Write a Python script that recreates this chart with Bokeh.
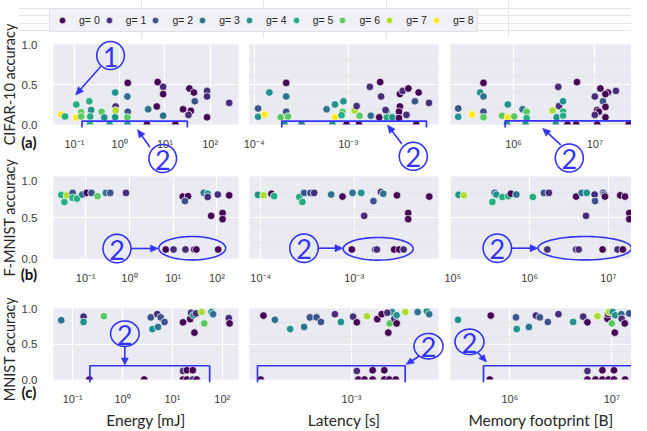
import numpy as np
from bokeh.plotting import figure
from bokeh.models import (Range1d, FixedTicker, CustomJSTickFormatter, PrintfTickFormatter,
                          Grid, Legend, LegendItem, ColumnDataSource)
from bokeh.core.properties import value
from bokeh.layouts import column, row
from bokeh.embed import file_html
from bokeh.resources import INLINE

# ---------------- data ----------------
groups = [0, 1, 2, 3, 4, 5, 6, 7, 8]
group_labels = ["g= 0", "g= 1", "g= 2", "g= 3", "g= 4", "g= 5", "g= 6", "g= 7", "g= 8"]
viridis9 = ["#440154", "#472c7a", "#3b528b", "#2c728e", "#21918c",
            "#27ad81", "#5cc863", "#aadc32", "#fde725"]

# CIFAR-10
cifar_energy_mj = [0.051, 0.062, 0.110, 0.110, 0.141, 0.141, 0.214, 0.234, 0.224, 0.398,
                   0.457, 0.794, 0.813, 0.813, 0.794, 1.51, 1.48, 1.51, 1.48, 4.27,
                   6.61, 6.92, 9.12, 9.12, 9.12, 25.1, 37.2, 33.1, 34.7, 43.7,
                   45.7, 85.1, 85.1, 85.1, 263, 0.22, 0.60, 1.48, 4.0, 17.0]
cifar_energy_acc = [0.125, 0.10, 0.088, 0.25, 0.154, 0.10, 0.29, 0.18, 0.10, 0.16,
                    0.088, 0.40, 0.225, 0.175, 0.09, 0.52, 0.35, 0.16, 0.09, 0.19,
                    0.225, 0.53, 0.47, 0.38, 0.11, 0.19, 0.17, 0.12, 0.45, 0.40,
                    0.29, 0.42, 0.35, 0.09, 0.27, 0.0, 0.0, 0.0, 0.0, 0.0]
cifar_energy_g = [8, 5, 8, 5, 6, 6, 5, 4, 5, 6,
                  4, 4, 1, 7, 4, 0, 3, 2, 6, 3,
                  0, 0, 1, 0, 3, 0, 0, 1, 0, 0,
                  2, 1, 1, 0, 1, 5, 4, 4, 0, 0]

cifar_latency_s = [1.10e-4, 1.10e-4, 1.29e-4, 1.45e-4, 2.19e-4, 2.19e-4, 2.19e-4, 1.91e-4, 2.29e-4, 5.89e-4,
                   7.24e-4, 8.91e-4, 8.71e-4, 7.24e-4, 8.5e-4, 1.17e-3, 1.23e-3, 1.32e-3, 1.70e-3, 1.74e-3,
                   2.14e-3, 2.19e-3, 2.24e-3, 2.57e-3, 2.57e-3, 2.95e-3, 2.5e-3, 3.55e-3, 3.47e-3, 3.55e-3,
                   3.80e-3, 4.37e-3, 4.17e-3, 5.13e-3, 5.62e-3, 7.24e-3, 3.47e-3,
                   2.1e-4, 3.2e-4, 6.8e-4, 9.6e-4, 1.3e-3, 5.3e-3]
cifar_latency_acc = [0.20, 0.096, 0.125, 0.40, 0.52, 0.35, 0.16, 0.09, 0.10, 0.19,
                     0.25, 0.29, 0.16, 0.09, 0.116, 0.175, 0.23, 0.11, 0.47, 0.11,
                     0.09, 0.53, 0.35, 0.16, 0.09, 0.09, 0.18, 0.225, 0.16, 0.38,
                     0.42, 0.45, 0.12, 0.29, 0.40, 0.27, 0.08,
                     0.0, 0.0, 0.0, 0.0, 0.0, 0.0]
cifar_latency_g = [2, 4, 8, 4, 0, 3, 2, 6, 6, 3,
                   4, 4, 6, 8, 5, 7, 1, 6, 1, 3,
                   0, 0, 1, 5, 5, 4, 1, 0, 0, 0,
                   1, 0, 1, 2, 0, 1, 0,
                   4, 3, 4, 0, 0, 0]

cifar_memory_b = [2.09e5, 2.09e5, 3.09e5, 3.89e5, 4.27e5, 4.27e5, 4.27e5, 4.27e5, 7.24e5, 8.51e5,
                  8.51e5, 1.02e6, 1.29e6, 1.45e6, 1.45e6, 3.02e6, 3.55e6, 3.63e6, 4.07e6, 4.07e6,
                  3.39e6, 4.07e6, 6.03e6, 1.0e7, 1.17e7, 1.45e7, 1.82e7, 1.26e7, 1.35e7, 1.07e7,
                  1.12e7, 1.0e7, 1.35e7, 1.35e7,
                  8.3e5, 1.41e6, 3.3e6, 4.6e6, 5.9e6, 1.07e7, 2.6e7]
cifar_memory_acc = [0.20, 0.096, 0.125, 0.40, 0.52, 0.35, 0.16, 0.09, 0.11, 0.25,
                    0.09, 0.10, 0.19, 0.16, 0.08, 0.175, 0.47, 0.23, 0.29, 0.16,
                    0.09, 0.11, 0.53, 0.35, 0.45, 0.40, 0.42, 0.29, 0.22, 0.18,
                    0.16, 0.12, 0.09, 0.38,
                    0.0, 0.0, 0.0, 0.0, 0.0, 0.0, 0.0]
cifar_memory_g = [2, 4, 8, 4, 0, 3, 2, 6, 6, 4,
                  8, 6, 3, 6, 5, 7, 1, 1, 4, 5,
                  4, 5, 0, 1, 0, 0, 1, 2, 0, 0,
                  0, 1, 0, 0,
                  4, 4, 4, 0, 0, 0, 0]

# F-MNIST
fmnist_energy_mj = [0.0275, 0.0324, 0.0372, 0.050, 0.050, 0.063, 0.083, 0.105, 0.135, 0.186,
                    0.288, 0.363, 0.832, 16.6, 21.9, 18.6, 50.1, 61.7, 61.7, 105,
                    191, 74.1, 135, 135, 6.76, 10.2, 19.1, 30.2, 33.9, 107]
fmnist_energy_acc = [0.776, 0.69, 0.77, 0.80, 0.74, 0.73, 0.78, 0.80, 0.80, 0.76,
                     0.80, 0.80, 0.80, 0.755, 0.76, 0.70, 0.80, 0.79, 0.75, 0.78,
                     0.77, 0.52, 0.555, 0.48, 0.11, 0.11, 0.11, 0.11, 0.11, 0.11]
fmnist_energy_g = [5, 5, 7, 2, 5, 5, 3, 0, 2, 6,
                   3, 2, 1, 0, 0, 2, 3, 4, 1, 1,
                   0, 0, 0, 0, 0, 1, 1, 1, 0, 0]

fmnist_latency_s = [9.3e-5, 1.07e-4, 1.30e-4, 1.39e-4, 2.58e-4, 2.79e-4, 2.91e-4, 3.40e-4, 3.73e-4, 5.67e-4,
                    7.50e-4, 9.60e-4, 1.19e-3, 1.28e-3, 1.61e-3, 1.93e-3, 2.05e-3, 2.87e-3, 3.79e-3, 3.79e-3,
                    6.37e-3, 9.44e-4, 1.68e-3, 1.75e-3, 2.68e-3, 3.03e-3, 3.38e-3]
fmnist_latency_acc = [0.776, 0.77, 0.79, 0.76, 0.75, 0.69, 0.80, 0.80, 0.80, 0.78,
                      0.755, 0.80, 0.80, 0.52, 0.70, 0.81, 0.79, 0.77, 0.555, 0.48,
                      0.755, 0.11, 0.11, 0.11, 0.11, 0.11, 0.11]
fmnist_latency_g = [4, 7, 0, 5, 5, 5, 2, 2, 1, 3,
                    0, 3, 4, 1, 2, 1, 3, 0, 0, 0,
                    0, 0, 1, 1, 0, 0, 1]

fmnist_memory_b = [1.25e5, 1.46e5, 3.37e5, 3.60e5, 3.78e5, 4.51e5, 5.37e5, 5.80e5, 6.78e5, 1.10e6,
                   1.52e6, 1.76e6, 3.90e6, 4.59e6, 5.32e6, 6.71e6, 6.78e6, 5.21e6, 8.65e6, 8.90e6,
                   9.07e6, 1.42e7, 1.63e7, 1.85e7, 1.85e7, 1.68e6, 3.90e6, 4.21e6, 8.47e6, 1.31e7, 1.53e7]
fmnist_memory_acc = [0.776, 0.77, 0.69, 0.80, 0.78, 0.75, 0.76, 0.79, 0.78, 0.75,
                     0.80, 0.80, 0.755, 0.80, 0.80, 0.78, 0.70, 0.52, 0.80, 0.78,
                     0.755, 0.77, 0.755, 0.555, 0.48, 0.11, 0.11, 0.11, 0.11, 0.11, 0.11]
fmnist_memory_g = [4, 7, 5, 2, 4, 5, 5, 0, 3, 5,
                   2, 1, 0, 3, 4, 1, 2, 1, 1, 3,
                   0, 0, 0, 0, 0, 1, 1, 1, 0, 1, 0]

# MNIST
mnist_energy_mj = [0.059, 0.165, 0.165, 0.422, 3.68, 3.97, 4.98, 5.14, 5.80, 6.95,
                   16.3, 22.7, 23.7, 26.4, 27.6, 29.8, 38.5, 43.5, 60.7, 65.5,
                   135, 140, 16.3, 19.5, 25.6, 0.217, 2.72, 16.3, 19.5, 25.6, 30.7]
mnist_energy_acc = [0.835, 0.885, 0.81, 0.89, 0.875, 0.71, 0.92, 0.74, 0.875, 0.81,
                    0.805, 0.85, 0.94, 0.905, 0.66, 0.93, 0.95, 0.79, 0.95, 0.92,
                    0.865, 0.79, 0.12, 0.13, 0.13, 0.0, 0.0, 0.0, 0.0, 0.0, 0.0]
mnist_energy_g = [3, 1, 4, 6, 2, 4, 1, 3, 2, 2,
                  0, 0, 1, 4, 0, 1, 7, 6, 4, 3,
                  1, 0, 1, 0, 0, 0, 0, 0, 0, 1, 0]

mnist_latency_s = [3.24e-4, 3.75e-4, 4.56e-4, 5.45e-4, 5.87e-4, 6.39e-4, 6.76e-4, 8.08e-4, 8.72e-4, 1.02e-3,
                   1.07e-3, 1.22e-3, 1.39e-3, 1.47e-3, 1.60e-3, 1.63e-3, 1.68e-3, 1.73e-3, 1.78e-3, 1.78e-3,
                   1.99e-3, 2.33e-3, 2.62e-3, 2.70e-3, 1.58e-3, 1.07e-3, 1.31e-3, 1.52e-3,
                   3.13e-4, 1.09e-3, 1.18e-3, 1.31e-3, 1.52e-3, 1.62e-3, 1.76e-3]
mnist_latency_acc = [0.90, 0.84, 0.71, 0.74, 0.875, 0.875, 0.81, 0.92, 0.81, 0.885,
                     0.805, 0.89, 0.85, 0.92, 0.66, 0.79, 0.95, 0.855, 0.79, 0.905,
                     0.95, 0.95, 0.96, 0.92, 0.94, 0.12, 0.13, 0.13,
                     0.0, 0.0, 0.0, 0.0, 0.0, 0.0, 0.0]
mnist_latency_g = [0, 3, 4, 3, 2, 2, 2, 1, 4, 1,
                   0, 7, 0, 0, 0, 6, 4, 1, 0, 4,
                   7, 3, 4, 3, 1, 1, 0, 0,
                   0, 0, 0, 0, 0, 0, 0]

mnist_memory_b = [3.11e5, 6.51e5, 1.15e6, 1.17e6, 1.54e6, 1.80e6, 1.97e6, 2.36e6, 3.00e6, 4.18e6,
                  5.24e6, 5.77e6, 7.23e6, 9.07e6, 9.21e6, 9.42e6, 1.02e7, 1.0e7, 1.07e7, 1.08e7,
                  1.24e7, 1.25e7, 1.34e7, 1.48e7, 5.77e6, 8.09e6, 1.05e7,
                  6.37e5, 5.77e6, 6.92e6, 8.09e6, 9.3e6, 1.05e7, 1.35e7]
mnist_memory_acc = [0.84, 0.90, 0.875, 0.71, 0.74, 0.90, 0.875, 0.81, 0.92, 0.81,
                    0.885, 0.805, 0.89, 0.855, 0.92, 0.95, 0.95, 0.79, 0.66, 0.905,
                    0.92, 0.855, 0.79, 0.93, 0.12, 0.13, 0.13,
                    0.0, 0.0, 0.0, 0.0, 0.0, 0.0, 0.0]
mnist_memory_g = [4, 0, 2, 4, 3, 1, 2, 2, 1, 4,
                  1, 0, 7, 0, 0, 7, 4, 6, 0, 4,
                  3, 1, 0, 2, 1, 0, 0,
                  0, 0, 0, 0, 0, 0, 0]

row_titles = ["CIFAR-10 accuracy", "F-MNIST accuracy", "MNIST accuracy"]
row_tags = ["(a)", "(b)", "(c)"]
col_titles = ["Energy [mJ]", "Latency [s]", "Memory footprint [B]"]
y_ticks = [0.0, 0.5, 1.0]

PANELS = [
    [(cifar_energy_mj, cifar_energy_acc, cifar_energy_g),
     (cifar_latency_s, cifar_latency_acc, cifar_latency_g),
     (cifar_memory_b, cifar_memory_acc, cifar_memory_g)],
    [(fmnist_energy_mj, fmnist_energy_acc, fmnist_energy_g),
     (fmnist_latency_s, fmnist_latency_acc, fmnist_latency_g),
     (fmnist_memory_b, fmnist_memory_acc, fmnist_memory_g)],
    [(mnist_energy_mj, mnist_energy_acc, mnist_energy_g),
     (mnist_latency_s, mnist_latency_acc, mnist_latency_g),
     (mnist_memory_b, mnist_memory_acc, mnist_memory_g)],
]

# log10 of x-axis limits per panel
XLO = [[-1.462, -4.05, 5.225], [-1.739, -4.121, 4.995], [-1.385, -3.567, 5.419]]
XHI = [[2.625, -2.039, 7.451], [2.495, -2.097, 7.295], [2.325, -2.517, 7.193]]

# ---------------- geometry (page pixels) ----------------
STRIP_W = 18
FIG_W = [223, 203, 187]
BL = [32, 8, 6]
BR = [3, 6, 0]
FR_L = [58, 257, 458]
FR_W = [188, 189, 181]
LEG_H = 38
FIG_H = [138, 122, 133]
BT = [6, 0, 10]
BB = [52, 40, 42]
FR_T = [44, 176, 308]
FR_H = [80, 82, 81]
REF_T = [44, 176, 308]
REF_H = [80, 82, 81]

BLUE = "#3434f8"
BG = "#EAEAF2"
TXT = "#262626"

SUP_JS = """
const m = {'-':'\u207b','0':'\u2070','1':'\u00b9','2':'\u00b2','3':'\u00b3','4':'\u2074',
           '5':'\u2075','6':'\u2076','7':'\u2077','8':'\u2078','9':'\u2079'};
const e = Math.round(Math.log10(tick));
return '10' + String(e).split('').map(ch => m[ch]).join('');
"""


def page_y(r, Y):
    return FR_T[r] + (Y - REF_T[r]) * FR_H[r] / REF_H[r]


def to_data(r, c, X, Y):
    Yp = page_y(r, Y)
    lo, hi = XLO[r][c], XHI[r][c]
    xd = 10 ** (lo + (X - FR_L[c]) / FR_W[c] * (hi - lo))
    yd = (FR_T[r] + FR_H[r] - Yp) / FR_H[r]
    return xd, yd


def polyline(p, r, c, pts, width=1.7):
    xs, ys = [], []
    for X, Y in pts:
        a, b = to_data(r, c, X, Y)
        xs.append(a)
        ys.append(b)
    p.line(xs, ys, line_color=BLUE, line_width=width, level="overlay")


def put_text(p, r, c, X, Y, txt, size, color, font="Lato", style="normal"):
    xd, yd = to_data(r, c, X, Y)
    p.text(x=[xd], y=[yd], text=[txt], text_align="center", text_baseline="middle",
           text_color=color, text_font=value(font), text_font_size=value(size),
           text_font_style=style, level="overlay")


def circled(p, r, c, X, Y, R, txt):
    t = np.linspace(0, 2 * np.pi, 72)
    polyline(p, r, c, [(X + R * np.cos(a), Y + R * np.sin(a)) for a in t], 1.6)
    put_text(p, r, c, X, Y + 1, txt, "27px", BLUE)


def arrow(p, r, c, X0, Y0, X1, Y1, L=8.0, W=3.6):
    dx, dy = X1 - X0, Y1 - Y0
    n = (dx * dx + dy * dy) ** 0.5
    ux, uy = dx / n, dy / n
    px, py = -uy, ux
    polyline(p, r, c, [(X0, Y0), (X1 - ux * L * 0.7, Y1 - uy * L * 0.7)], 1.6)
    head = [(X1, Y1), (X1 - ux * L + px * W, Y1 - uy * L + py * W),
            (X1 - ux * L - px * W, Y1 - uy * L - py * W)]
    xs, ys = [], []
    for X, Y in head:
        a, b = to_data(r, c, X, Y)
        xs.append(a)
        ys.append(b)
    p.patch(xs, ys, fill_color=BLUE, line_color=BLUE, line_width=0.5, level="overlay")


def bracket(p, r, c, x0, x1, yt, yb):
    polyline(p, r, c, [(x0, yb), (x0, yt), (x1, yt), (x1, yb)], 1.7)


def ellipse(p, r, c, X, Y, rx, ry):
    t = np.linspace(0, 2 * np.pi, 90)
    polyline(p, r, c, [(X + rx * np.cos(a), Y + ry * np.sin(a)) for a in t], 1.6)


# annotation shapes, in reference-picture pixels
ANNOT = {
    (0, 0): dict(circles=[(116, 55, 14, "1"), (169, 158, 14, "2")],
                 arrows=[(106, 66, 80.5, 94.5), (156, 146.7, 143.3, 129)],
                 brackets=[(87, 194, 120.7, 127)]),
    (0, 1): dict(circles=[(420.8, 155.8, 14, "2")],
                 arrows=[(409.3, 143.3, 395, 124.5)],
                 brackets=[(289.3, 434, 120.7, 127)]),
    (0, 2): dict(circles=[(576.8, 157.5, 14, "2")],
                 arrows=[(568.3, 144.3, 550, 127.7)],
                 brackets=[(512.7, 645, 120.3, 127)]),
    (1, 0): dict(circles=[(122.5, 248, 14.2, "2")],
                 arrows=[(136.7, 248, 164.5, 248)],
                 ellipses=[(199, 247.7, 34, 11.7)]),
    (1, 1): dict(circles=[(311.5, 247.7, 14.2, "2")],
                 arrows=[(325.7, 247.7, 350.5, 247.7)],
                 ellipses=[(385.7, 248.3, 35, 11.3)]),
    (1, 2): dict(circles=[(504.8, 247.7, 14.2, "2")],
                 arrows=[(519, 247.7, 545.5, 247.7)],
                 ellipses=[(592.3, 247.7, 46.7, 11.7)]),
    (2, 0): dict(circles=[(130.5, 336.7, 14.5, "2")],
                 arrows=[(130.5, 351.2, 130.5, 372.5)],
                 brackets=[(95, 216.7, 373.3, 392)]),
    (2, 1): dict(circles=[(436, 351, 14.5, "2")],
                 arrows=[(426.5, 362.5, 413.5, 372)],
                 brackets=[(265, 412.7, 373.3, 392)]),
    (2, 2): dict(circles=[(477, 346, 14.5, "2")],
                 arrows=[(485.5, 358.5, 494, 369)],
                 brackets=[(491, 639.3, 373.3, 392)]),
}
TAG_POS = [(33, 141), (33, 273), (33, 403)]


def make_panel(r, c):
    lo, hi = XLO[r][c], XHI[r][c]
    p = figure(width=FIG_W[c], height=FIG_H[r], x_axis_type="log",
               x_range=Range1d(10 ** lo, 10 ** hi), y_range=Range1d(0, 1),
               output_backend="svg", toolbar_location=None,
               y_axis_location="left" if c == 0 else None,
               min_border_left=BL[c], min_border_right=BR[c],
               min_border_top=BT[r], min_border_bottom=BB[r])
    p.background_fill_color = BG
    p.border_fill_color = "white"
    p.outline_line_color = None

    xt = FixedTicker(ticks=[10.0 ** k for k in range(-7, 10)], minor_ticks=[])
    ax = p.xaxis[0]
    ax.ticker = xt
    ax.formatter = CustomJSTickFormatter(code=SUP_JS)
    ax.axis_line_color = None
    ax.major_tick_line_color = None
    ax.minor_tick_line_color = None
    ax.major_label_standoff = 7
    ax.major_label_text_font = "Liberation Sans"
    ax.major_label_text_font_size = "11px"
    ax.major_label_text_color = "#3a3a3a"
    p.xgrid.ticker = xt
    p.xgrid.grid_line_color = "white"
    p.xgrid.grid_line_width = 1.1
    if r == 2:
        ax.axis_label = col_titles[c]
        ax.axis_label_standoff = 3
        ax.axis_label_text_font = "Lato"
        ax.axis_label_text_font_style = "normal"
        ax.axis_label_text_font_size = "15.5px"
        ax.axis_label_text_color = TXT

    yt = FixedTicker(ticks=y_ticks, minor_ticks=[])
    if c == 0:
        ay = p.yaxis[0]
        ay.ticker = yt
        ay.formatter = PrintfTickFormatter(format="%.1f")
        ay.axis_line_color = None
        ay.major_tick_line_color = None
        ay.minor_tick_line_color = None
        ay.major_label_standoff = 10
        ay.major_label_text_font = "Liberation Sans"
        ay.major_label_text_font_size = "11.5px"
        ay.major_label_text_color = "#3a3a3a"
        p.ygrid.ticker = yt
        p.ygrid.grid_line_color = "white"
        p.ygrid.grid_line_width = 1.1
    else:
        p.add_layout(Grid(dimension=1, ticker=yt, grid_line_color="white", grid_line_width=1.1))

    xs, ys, gs = PANELS[r][c]
    src = ColumnDataSource(dict(x=xs, y=ys, color=[viridis9[g] for g in gs]))
    p.scatter("x", "y", source=src, size=7.6, fill_color="color", line_color="white",
              line_width=0.7)

    spec = ANNOT[(r, c)]
    for (X0, Y0, X1, Y1) in spec.get("arrows", []):
        arrow(p, r, c, X0, Y0, X1, Y1)
    for (x0, x1, yt_, yb_) in spec.get("brackets", []):
        bracket(p, r, c, x0, x1, yt_, yb_)
    for (X, Y, rx, ry) in spec.get("ellipses", []):
        ellipse(p, r, c, X, Y, rx, ry)
    for (X, Y, R, txt) in spec.get("circles", []):
        circled(p, r, c, X, Y, R, txt)

    if c == 0:
        put_text(p, r, 0, TAG_POS[r][0], TAG_POS[r][1], row_tags[r], "15px", "#111111",
                 style="bold")
    return p


# ---------------- left strip with the row titles ----------------
TOTAL_H = LEG_H + sum(FIG_H)
strip = figure(width=STRIP_W, height=TOTAL_H, output_backend="svg", toolbar_location=None,
               x_axis_location=None, y_axis_location=None, min_border=0,
               x_range=Range1d(0, STRIP_W), y_range=Range1d(TOTAL_H, 0))
strip.outline_line_color = None
strip.background_fill_color = "white"
strip.border_fill_color = "white"
strip.grid.visible = False
title_y = [FR_T[r] + FR_H[r] / 2 for r in range(3)]
strip.text(x=[9, 9, 9], y=title_y, text=row_titles, angle=np.pi / 2,
           text_align="center", text_baseline="middle", text_color=TXT,
           text_font=value("Lato"), text_font_size=value("14.5px"))

# ---------------- legend strip ----------------
lf = figure(width=sum(FIG_W), height=LEG_H, output_backend="svg", toolbar_location=None,
            x_axis_location=None, y_axis_location=None, min_border=0,
            x_range=Range1d(0, 1), y_range=Range1d(0, 1))
lf.outline_line_color = None
lf.background_fill_color = "white"
lf.border_fill_color = "white"
items = []
for g in groups:
    rr = lf.scatter(x=[-5.0], y=[-5.0], size=7.2, fill_color=viridis9[g], line_color="white",
                    line_width=0.6)
    items.append(LegendItem(label=group_labels[g], renderers=[rr]))
leg = Legend(items=items, orientation="horizontal", location=(57 - 8 - STRIP_W, LEG_H - 32),
             margin=0, padding=3, spacing=0, glyph_width=18, glyph_height=16, label_height=16,
             label_standoff=8, label_text_font="Liberation Sans", label_text_font_size="10.5px",
             label_text_color=TXT, background_fill_color="#f0f0f5", background_fill_alpha=1.0,
             border_line_color="#cfcfcf", border_line_width=1)
lf.add_layout(leg)

rows = [row(*[make_panel(r, c) for c in range(3)]) for r in range(3)]
layout = row(strip, column(lf, *rows))
open("out.html", "w").write(file_html(layout, INLINE))
